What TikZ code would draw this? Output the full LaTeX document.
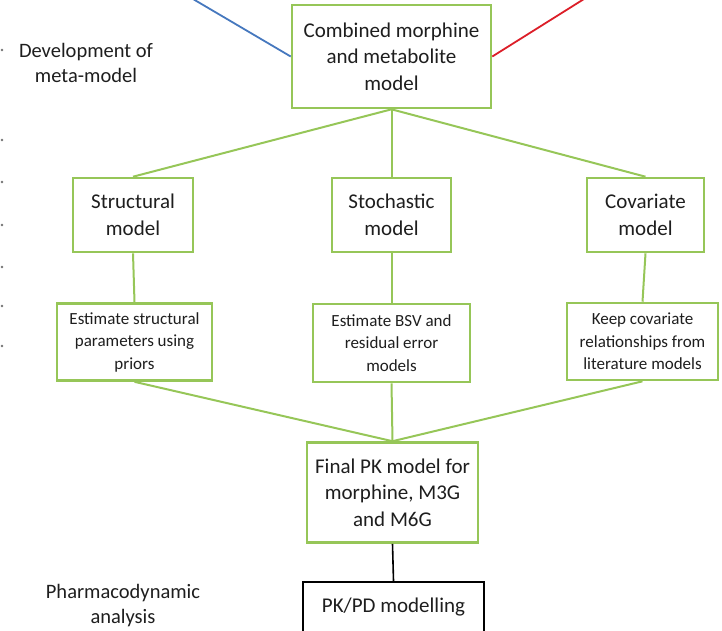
\documentclass[tikz,border=0pt]{standalone}
\usepackage{fontspec}
\setmainfont{Carlito}
\definecolor{boxgreen}{RGB}{150,198,88}
\definecolor{linkblue}{RGB}{70,120,190}
\definecolor{linkred}{RGB}{220,30,40}
\definecolor{txt}{RGB}{30,30,30}
\tikzset{
  gbox/.style={draw=boxgreen, line width=2.6pt, fill=white, align=center,
    text=txt, inner sep=0pt, font=\fontsize{21}{26.5}\selectfont},
  sbox/.style={gbox, font=\fontsize{17}{22.5}\selectfont},
  kbox/.style={draw=black, line width=2pt, fill=white, align=center,
    text=txt, inner sep=0pt, font=\fontsize{21}{26.5}\selectfont},
  glink/.style={draw=boxgreen, line width=2pt},
  klink/.style={draw=black, line width=1.6pt},
  side/.style={align=center, text=txt, font=\fontsize{20.5}{25}\selectfont},
  edgedot/.style={fill=gray!90!black, inner sep=0pt, minimum size=2.6pt, circle}
}
\begin{document}
\begin{tikzpicture}[x=1pt, y=-1pt]
\useasboundingbox (0,0) rectangle (722,630);
\clip (0,0) rectangle (722,630);

% marks along the left margin
\foreach \yy [count=\i] in {50,140,182,225,267,306,346}
  \node[edgedot] (dot\i) at (2,\yy) {};

% side labels
\node[side] (devlabel) at (86,63) {Development of\\meta-model};
\node[side] (pdlabel) at (123,606) {Pharmacodynamic\\analysis};

% boxes
\node[gbox, minimum width=199pt, minimum height=103pt] (top) at (391.5,56.5)
  {Combined morphine\\and metabolite\\model};
\node[gbox, minimum width=120pt, minimum height=74pt] (struct) at (133,215)
  {Structural\\model};
\node[gbox, minimum width=119pt, minimum height=74pt] (stoch) at (391.5,215)
  {Stochastic\\model};
\node[gbox, minimum width=117pt, minimum height=74pt] (covar) at (645.5,215)
  {Covariate\\model};
\node[sbox, minimum width=155pt, minimum height=77pt] (est1) at (134.5,342)
  {Estimate structural\\parameters using\\priors};
\node[sbox, minimum width=157pt, minimum height=78pt] (est2) at (391.5,343)
  {Estimate BSV and\\residual error\\models};
\node[sbox, minimum width=151pt, minimum height=77pt] (est3) at (642.5,341.5)
  {Keep covariate\\relationships from\\literature models};
\node[gbox, minimum width=171pt, minimum height=100pt] (final) at (392.5,492.5)
  {Final PK model for\\morphine, M3G\\and M6G};
\node[kbox, minimum width=181pt, minimum height=50pt] (pkpd) at (393.5,607)
  {PK/PD modelling};

% incoming links from above
\coordinate (bluein) at (193,-1);
\coordinate (redin) at (584,-1);
\draw[linkblue, line width=1.8pt] (bluein) -- (top.west);
\draw[linkred, line width=1.8pt] (top.east) -- (redin);

% tree links
\draw[glink] (top.south) -- (struct.north);
\draw[glink] (top.south) -- (stoch.north);
\draw[glink] (top.south) -- (covar.north);
\draw[glink] (struct.south) -- (est1.north);
\draw[glink] (stoch.south) -- (est2.north);
\draw[glink] (covar.south) -- (est3.north);
\draw[glink] (est1.south) -- (final.north);
\draw[glink] (est2.south) -- (final.north);
\draw[glink] (est3.south) -- (final.north);
\draw[klink] (final.south) -- (pkpd.north);
\end{tikzpicture}
\end{document}
